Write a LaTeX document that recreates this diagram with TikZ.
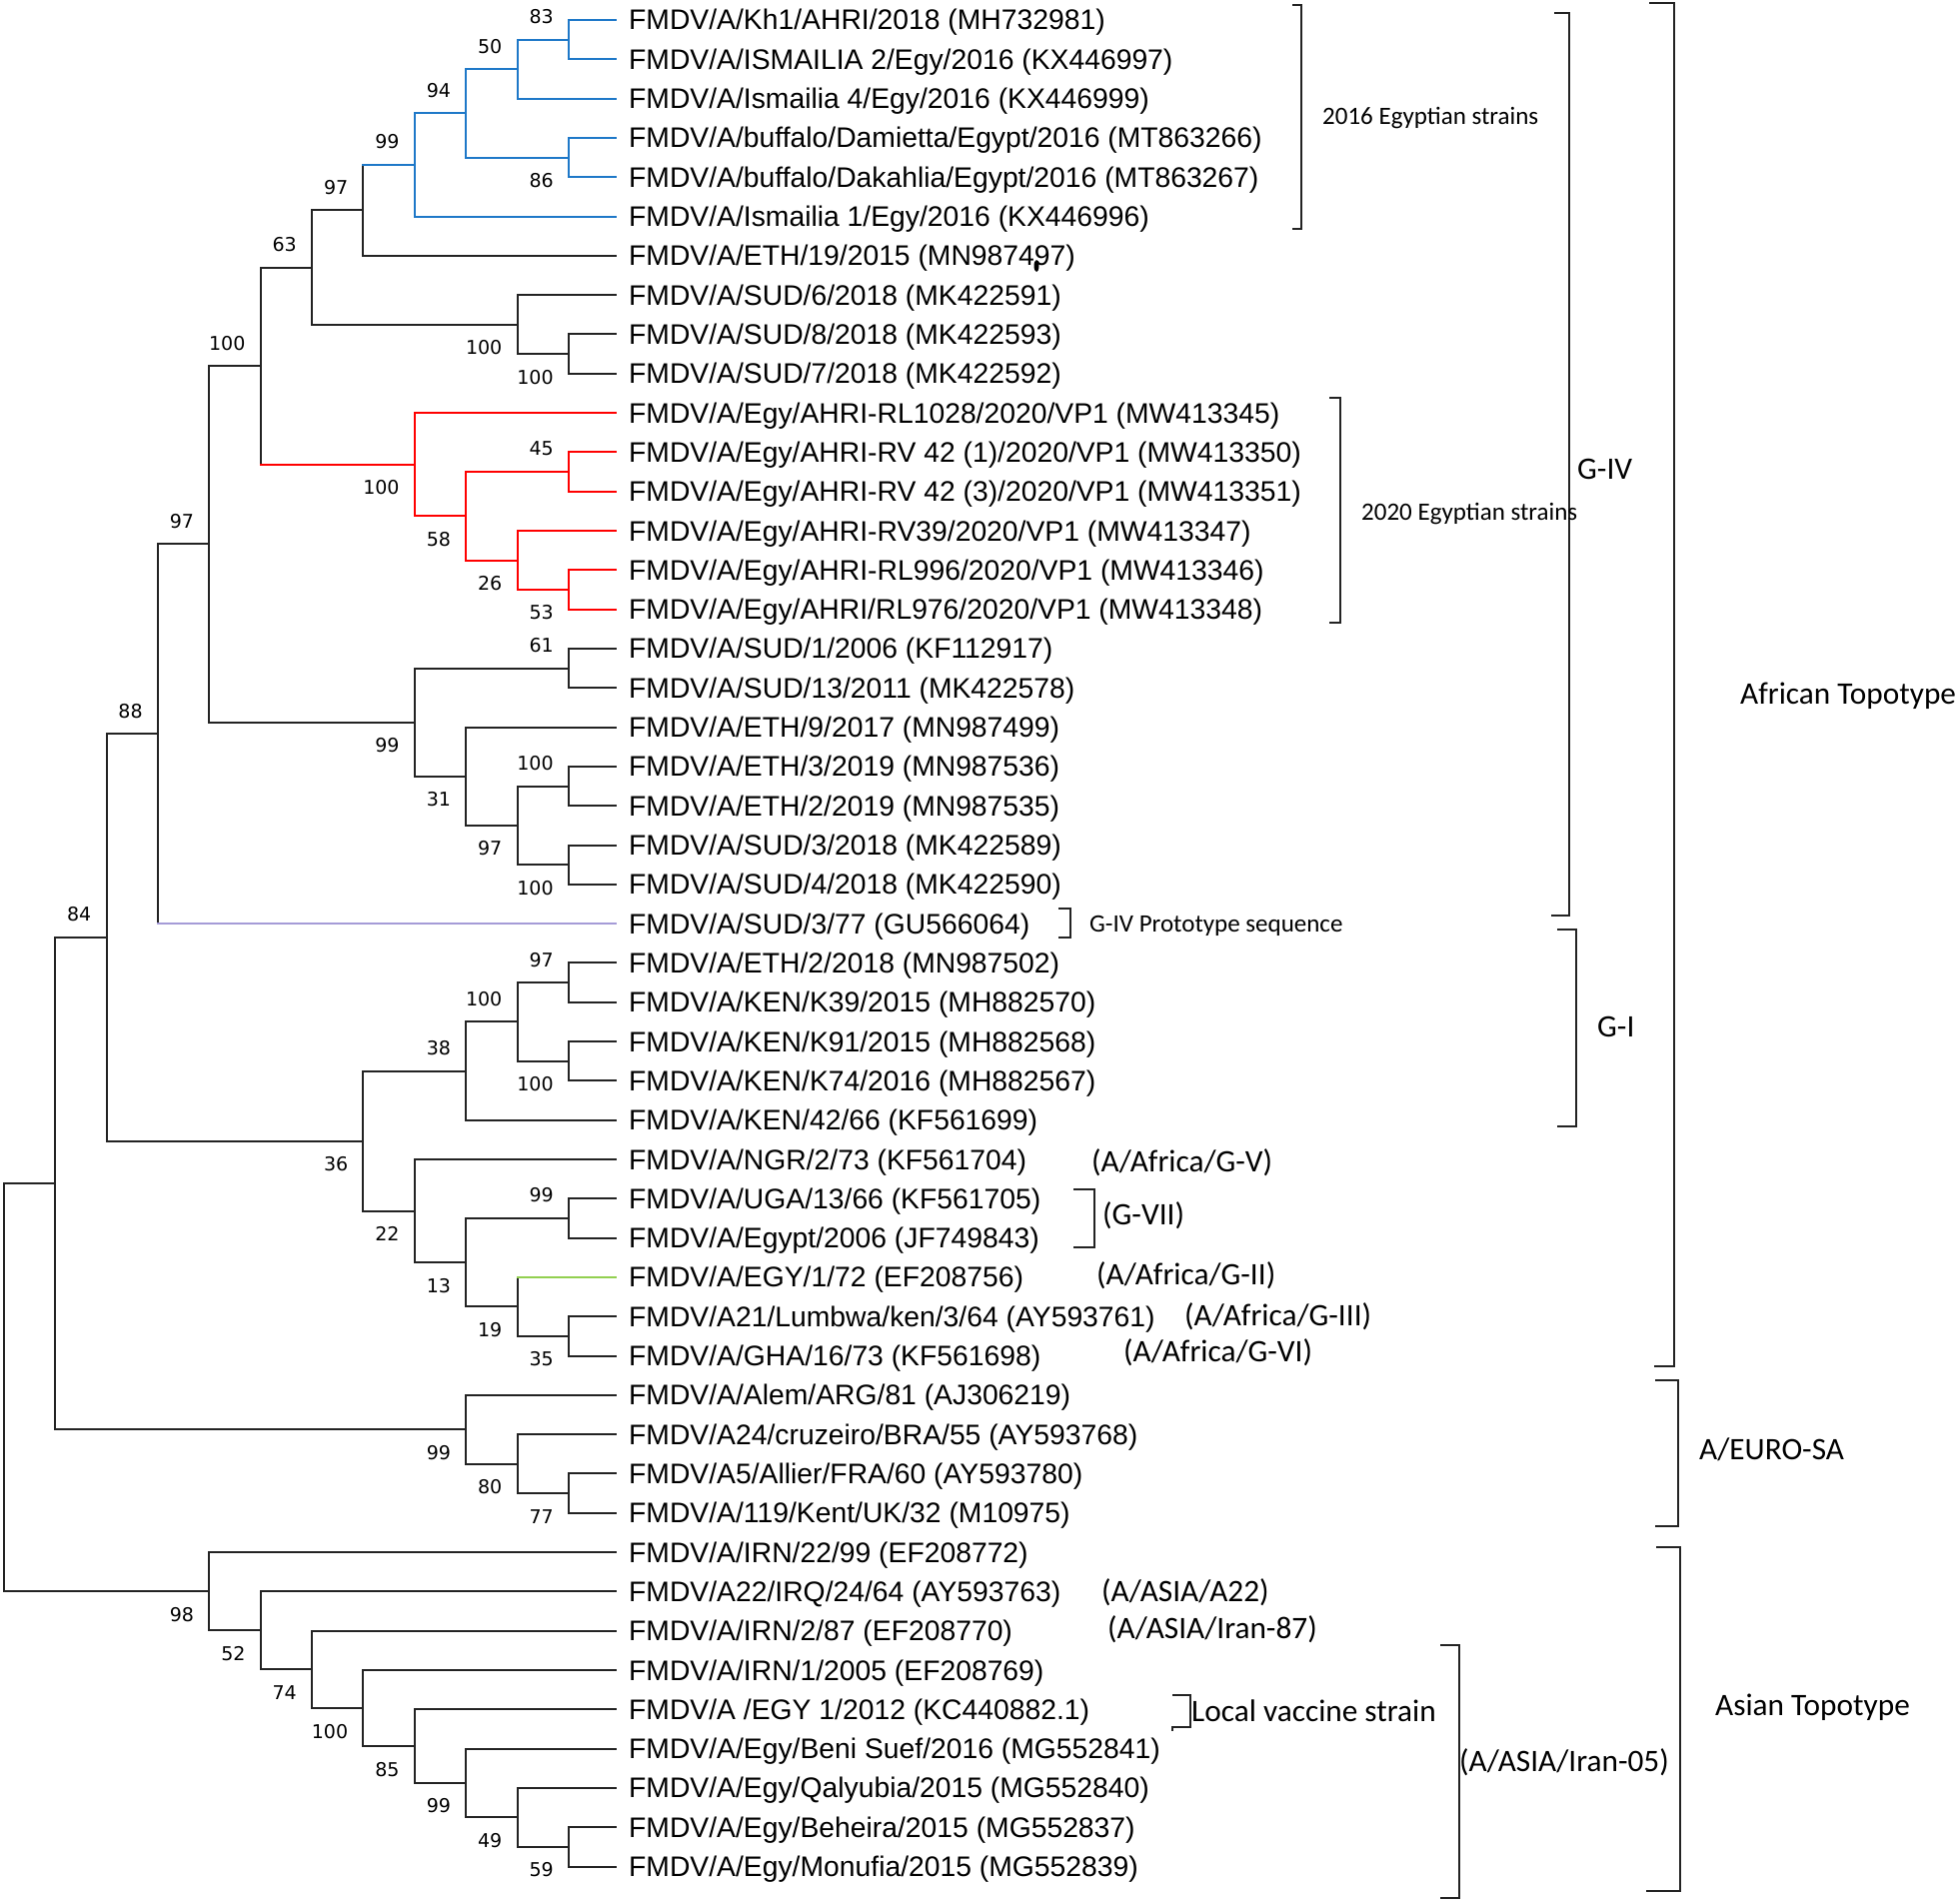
\documentclass[tikz,border=0pt]{standalone}
\usepackage{fontspec}
\setmainfont{Liberation Sans}
\newfontfamily\calfont{Carlito}
\newfontfamily\numfont{DejaVu Sans}
\usetikzlibrary{calc}
\definecolor{ink}{RGB}{35,35,35}
\definecolor{cblue}{RGB}{30,120,200}
\definecolor{cred}{RGB}{255,0,0}
\definecolor{clav}{RGB}{165,155,215}
\definecolor{cgreen}{RGB}{146,208,80}
\tikzset{
  br/.style={line width=2pt, line cap=rect, draw=ink},
  leaf/.style={anchor=base west, inner sep=0pt, xshift=13pt, yshift=-10pt, font=\fontsize{28.3}{30}\selectfont, text=black},
  bs/.style={anchor=east, inner sep=0pt, font=\numfont\fontsize{19}{20}\selectfont, text=black},
  bk/.style={line width=2.4pt, draw=ink},
  ann/.style={anchor=base west, inner sep=0pt, font=\calfont\fontsize{31.3}{33}\selectfont, text=black},
  anns/.style={anchor=base west, inner sep=0pt, font=\calfont\fontsize{25}{27}\selectfont, text=black},
}
\newcommand\vb[4][ink]{\draw[br,draw=#1] (#2 |- #3) -- (#2 |- #4);}
\newcommand\hb[3][ink]{\draw[br,draw=#1] (#2 |- #3) -- (#3);}
\newcommand\bsa[2]{\node[bs] (b#1) at ([xshift=-15pt,yshift=23pt]#1) {#2};}
\newcommand\bsb[2]{\node[bs] (b#1) at ([xshift=-15pt,yshift=-23pt]#1) {#2};}
\begin{document}
\begin{tikzpicture}
\useasboundingbox[fill=white] (0,0) rectangle (1960pt,-1905pt);
\begin{scope}[x=51.375pt, y=-39.31pt, shift={(3.75pt,-20pt)}]
% leaves
\foreach \i in {1,...,48} {\pgfmathsetmacro\r{\i-1}\coordinate (l\i) at (11.917,\r);}
% internal nodes
\coordinate (n83) at (11,0.5);
\coordinate (n50) at (10,1.25);
\coordinate (n86) at (11,3.5);
\coordinate (n94) at (9,2.375);
\coordinate (n99a) at (8,3.6875);
\coordinate (n97a) at (7,4.84375);
\coordinate (n100s1) at (11,8.5);
\coordinate (n100s2) at (10,7.75);
\coordinate (n63) at (6,6.296875);
\coordinate (n45) at (11,11.5);
\coordinate (n53) at (11,14.5);
\coordinate (n26) at (10,13.75);
\coordinate (n58) at (9,12.625);
\coordinate (n100r) at (8,11.3125);
\coordinate (n100b) at (5,8.8046875);
\coordinate (n61) at (11,16.5);
\coordinate (n100e) at (11,19.5);
\coordinate (n100f) at (11,21.5);
\coordinate (n97b) at (10,20.5);
\coordinate (n31) at (9,19.25);
\coordinate (n99b) at (8,17.875);
\coordinate (n97c) at (4,13.33984);
\coordinate (n88) at (3,18.16992);
\coordinate (n97d) at (11,24.5);
\coordinate (n100g) at (11,26.5);
\coordinate (n100h) at (10,25.5);
\coordinate (n38) at (9,26.75);
\coordinate (n99c) at (11,30.5);
\coordinate (n35) at (11,33.5);
\coordinate (n19) at (10,32.75);
\coordinate (n13) at (9,31.625);
\coordinate (n22) at (8,30.3125);
\coordinate (n36) at (7,28.53125);
\coordinate (n84) at (2,23.35059);
\coordinate (n77) at (11,37.5);
\coordinate (n80) at (10,36.75);
\coordinate (n99d) at (9,35.875);
\coordinate (nX) at (1,29.61279);
\coordinate (n59) at (11,46.5);
\coordinate (n49) at (10,45.75);
\coordinate (n99e) at (9,44.875);
\coordinate (n85) at (8,43.9375);
\coordinate (n100i) at (7,42.96875);
\coordinate (n74) at (6,41.984375);
\coordinate (n52) at (5,40.9921875);
\coordinate (n98) at (4,39.99609375);
\coordinate (root) at (0,34.8044);
% vertical bars
\vb[cblue]{n83}{l1}{l2}
\vb[cblue]{n50}{n83}{l3}
\vb[cblue]{n86}{l4}{l5}
\vb[cblue]{n94}{n50}{n86}
\vb[cblue]{n99a}{n94}{l6}
\vb{n97a}{n99a}{l7}
\vb{n100s1}{l9}{l10}
\vb{n100s2}{l8}{n100s1}
\vb{n63}{n97a}{n100s2}
\vb[cred]{n45}{l12}{l13}
\vb[cred]{n53}{l15}{l16}
\vb[cred]{n26}{l14}{n53}
\vb[cred]{n58}{n45}{n26}
\vb[cred]{n100r}{l11}{n58}
\vb{n100b}{n63}{n100r}
\vb{n61}{l17}{l18}
\vb{n100e}{l20}{l21}
\vb{n100f}{l22}{l23}
\vb{n97b}{n100e}{n100f}
\vb{n31}{l19}{n97b}
\vb{n99b}{n61}{n31}
\vb{n97c}{n100b}{n99b}
\vb{n88}{n97c}{l24}
\vb{n97d}{l25}{l26}
\vb{n100g}{l27}{l28}
\vb{n100h}{n97d}{n100g}
\vb{n38}{n100h}{l29}
\vb{n99c}{l31}{l32}
\vb{n35}{l34}{l35}
\vb{n19}{l33}{n35}
\vb{n13}{n99c}{n19}
\vb{n22}{l30}{n13}
\vb{n36}{n38}{n22}
\vb{n84}{n88}{n36}
\vb{n77}{l38}{l39}
\vb{n80}{l37}{n77}
\vb{n99d}{l36}{n80}
\vb{nX}{n84}{n99d}
\vb{n59}{l47}{l48}
\vb{n49}{l46}{n59}
\vb{n99e}{l45}{n49}
\vb{n85}{l44}{n99e}
\vb{n100i}{l43}{n85}
\vb{n74}{l42}{n100i}
\vb{n52}{l41}{n74}
\vb{n98}{l40}{n52}
\vb{root}{nX}{n98}
% horizontal branches
\hb[cblue]{n83}{l1} \hb[cblue]{n83}{l2}
\hb[cblue]{n50}{n83} \hb[cblue]{n50}{l3}
\hb[cblue]{n86}{l4} \hb[cblue]{n86}{l5}
\hb[cblue]{n94}{n50} \hb[cblue]{n94}{n86}
\hb[cblue]{n99a}{n94} \hb[cblue]{n99a}{l6}
\hb[cblue]{n97a}{n99a} \hb{n97a}{l7}
\hb{n100s1}{l9} \hb{n100s1}{l10}
\hb{n100s2}{l8} \hb{n100s2}{n100s1}
\hb{n63}{n97a} \hb{n63}{n100s2}
\hb[cred]{n45}{l12} \hb[cred]{n45}{l13}
\hb[cred]{n53}{l15} \hb[cred]{n53}{l16}
\hb[cred]{n26}{l14} \hb[cred]{n26}{n53}
\hb[cred]{n58}{n45} \hb[cred]{n58}{n26}
\hb[cred]{n100r}{l11} \hb[cred]{n100r}{n58}
\hb{n100b}{n63} \hb[cred]{n100b}{n100r}
\hb{n61}{l17} \hb{n61}{l18}
\hb{n100e}{l20} \hb{n100e}{l21}
\hb{n100f}{l22} \hb{n100f}{l23}
\hb{n97b}{n100e} \hb{n97b}{n100f}
\hb{n31}{l19} \hb{n31}{n97b}
\hb{n99b}{n61} \hb{n99b}{n31}
\hb{n97c}{n100b} \hb{n97c}{n99b}
\hb{n88}{n97c} \hb[clav]{n88}{l24}
\hb{n97d}{l25} \hb{n97d}{l26}
\hb{n100g}{l27} \hb{n100g}{l28}
\hb{n100h}{n97d} \hb{n100h}{n100g}
\hb{n38}{n100h} \hb{n38}{l29}
\hb{n99c}{l31} \hb{n99c}{l32}
\hb{n35}{l34} \hb{n35}{l35}
\hb[cgreen]{n19}{l33} \hb{n19}{n35}
\hb{n13}{n99c} \hb{n13}{n19}
\hb{n22}{l30} \hb{n22}{n13}
\hb{n36}{n38} \hb{n36}{n22}
\hb{n84}{n88} \hb{n84}{n36}
\hb{n77}{l38} \hb{n77}{l39}
\hb{n80}{l37} \hb{n80}{n77}
\hb{n99d}{l36} \hb{n99d}{n80}
\hb{nX}{n84} \hb{nX}{n99d}
\hb{n59}{l47} \hb{n59}{l48}
\hb{n49}{l46} \hb{n49}{n59}
\hb{n99e}{l45} \hb{n99e}{n49}
\hb{n85}{l44} \hb{n85}{n99e}
\hb{n100i}{l43} \hb{n100i}{n85}
\hb{n74}{l42} \hb{n74}{n100i}
\hb{n52}{l41} \hb{n52}{n74}
\hb{n98}{l40} \hb{n98}{n52}
\hb{root}{nX} \hb{root}{n98}
% bootstrap values
\bsa{n83}{83} \bsa{n50}{50} \bsb{n86}{86} \bsa{n94}{94} \bsa{n99a}{99} \bsa{n97a}{97}
\bsb{n100s2}{100} \bsb{n100s1}{100} \bsa{n63}{63} \bsa{n100b}{100}
\bsb{n100r}{100} \bsa{n45}{45} \bsb{n58}{58} \bsb{n26}{26} \bsb{n53}{53}
\bsa{n61}{61} \bsb{n99b}{99} \bsb{n31}{31} \bsa{n100e}{100} \bsb{n97b}{97} \bsb{n100f}{100}
\bsa{n97c}{97} \bsa{n88}{88} \bsa{n84}{84}
\bsa{n97d}{97} \bsa{n100h}{100} \bsb{n100g}{100} \bsa{n38}{38} \bsb{n36}{36} \bsb{n22}{22}
\bsa{n99c}{99} \bsb{n13}{13} \bsb{n19}{19} \bsb{n35}{35}
\bsb{n99d}{99} \bsb{n80}{80} \bsb{n77}{77}
\bsb{n98}{98} \bsb{n52}{52} \bsb{n74}{74} \bsb{n100i}{100} \bsb{n85}{85} \bsb{n99e}{99} \bsb{n49}{49} \bsb{n59}{59}
% leaf labels
\node[leaf] (t1) at (l1) {FMDV/A/Kh1/AHRI/2018 (MH732981)};
\node[leaf] (t2) at (l2) {FMDV/A/ISMAILIA 2/Egy/2016 (KX446997)};
\node[leaf] (t3) at (l3) {FMDV/A/Ismailia 4/Egy/2016 (KX446999)};
\node[leaf] (t4) at (l4) {FMDV/A/buffalo/Damietta/Egypt/2016 (MT863266)};
\node[leaf] (t5) at (l5) {FMDV/A/buffalo/Dakahlia/Egypt/2016 (MT863267)};
\node[leaf] (t6) at (l6) {FMDV/A/Ismailia 1/Egy/2016 (KX446996)};
\node[leaf] (t7) at (l7) {FMDV/A/ETH/19/2015 (MN987497)};
\node[leaf] (t8) at (l8) {FMDV/A/SUD/6/2018 (MK422591)};
\node[leaf] (t9) at (l9) {FMDV/A/SUD/8/2018 (MK422593)};
\node[leaf] (t10) at (l10) {FMDV/A/SUD/7/2018 (MK422592)};
\node[leaf] (t11) at (l11) {FMDV/A/Egy/AHRI-RL1028/2020/VP1 (MW413345)};
\node[leaf] (t12) at (l12) {FMDV/A/Egy/AHRI-RV 42 (1)/2020/VP1 (MW413350)};
\node[leaf] (t13) at (l13) {FMDV/A/Egy/AHRI-RV 42 (3)/2020/VP1 (MW413351)};
\node[leaf] (t14) at (l14) {FMDV/A/Egy/AHRI-RV39/2020/VP1 (MW413347)};
\node[leaf] (t15) at (l15) {FMDV/A/Egy/AHRI-RL996/2020/VP1 (MW413346)};
\node[leaf] (t16) at (l16) {FMDV/A/Egy/AHRI/RL976/2020/VP1 (MW413348)};
\node[leaf] (t17) at (l17) {FMDV/A/SUD/1/2006 (KF112917)};
\node[leaf] (t18) at (l18) {FMDV/A/SUD/13/2011 (MK422578)};
\node[leaf] (t19) at (l19) {FMDV/A/ETH/9/2017 (MN987499)};
\node[leaf] (t20) at (l20) {FMDV/A/ETH/3/2019 (MN987536)};
\node[leaf] (t21) at (l21) {FMDV/A/ETH/2/2019 (MN987535)};
\node[leaf] (t22) at (l22) {FMDV/A/SUD/3/2018 (MK422589)};
\node[leaf] (t23) at (l23) {FMDV/A/SUD/4/2018 (MK422590)};
\node[leaf] (t24) at (l24) {FMDV/A/SUD/3/77 (GU566064)};
\node[leaf] (t25) at (l25) {FMDV/A/ETH/2/2018 (MN987502)};
\node[leaf] (t26) at (l26) {FMDV/A/KEN/K39/2015 (MH882570)};
\node[leaf] (t27) at (l27) {FMDV/A/KEN/K91/2015 (MH882568)};
\node[leaf] (t28) at (l28) {FMDV/A/KEN/K74/2016 (MH882567)};
\node[leaf] (t29) at (l29) {FMDV/A/KEN/42/66 (KF561699)};
\node[leaf] (t30) at (l30) {FMDV/A/NGR/2/73 (KF561704)};
\node[leaf] (t31) at (l31) {FMDV/A/UGA/13/66 (KF561705)};
\node[leaf] (t32) at (l32) {FMDV/A/Egypt/2006 (JF749843)};
\node[leaf] (t33) at (l33) {FMDV/A/EGY/1/72 (EF208756)};
\node[leaf] (t34) at (l34) {FMDV/A21/Lumbwa/ken/3/64 (AY593761)};
\node[leaf] (t35) at (l35) {FMDV/A/GHA/16/73 (KF561698)};
\node[leaf] (t36) at (l36) {FMDV/A/Alem/ARG/81 (AJ306219)};
\node[leaf] (t37) at (l37) {FMDV/A24/cruzeiro/BRA/55 (AY593768)};
\node[leaf] (t38) at (l38) {FMDV/A5/Allier/FRA/60 (AY593780)};
\node[leaf] (t39) at (l39) {FMDV/A/119/Kent/UK/32 (M10975)};
\node[leaf] (t40) at (l40) {FMDV/A/IRN/22/99 (EF208772)};
\node[leaf] (t41) at (l41) {FMDV/A22/IRQ/24/64 (AY593763)};
\node[leaf] (t42) at (l42) {FMDV/A/IRN/2/87 (EF208770)};
\node[leaf] (t43) at (l43) {FMDV/A/IRN/1/2005 (EF208769)};
\node[leaf] (t44) at (l44) {FMDV/A /EGY 1/2012 (KC440882.1)};
\node[leaf] (t45) at (l45) {FMDV/A/Egy/Beni Suef/2016 (MG552841)};
\node[leaf] (t46) at (l46) {FMDV/A/Egy/Qalyubia/2015 (MG552840)};
\node[leaf] (t47) at (l47) {FMDV/A/Egy/Beheira/2015 (MG552837)};
\node[leaf] (t48) at (l48) {FMDV/A/Egy/Monufia/2015 (MG552839)};
\end{scope}
% annotations: brackets and group labels (pixel coordinates, y downward)
\begin{scope}[x=1pt, y=-1pt]
\draw[bk] (1293,5) -- (1302,5) -- (1302,229) -- (1293,229);
\draw[bk] (1555,13) -- (1570,13) -- (1570,916) -- (1552,916);
\draw[bk] (1650,3) -- (1675,3) -- (1675,1367) -- (1655,1367);
\draw[bk] (1330,398) -- (1341,398) -- (1341,623) -- (1330,623);
\draw[bk] (1059,909) -- (1071,909) -- (1071,938) -- (1059,938);
\draw[bk] (1558,930) -- (1577,930) -- (1577,1127) -- (1558,1127);
\draw[bk] (1074,1190) -- (1095,1190) -- (1095,1248) -- (1074,1248);
\draw[bk] (1656,1381) -- (1679,1381) -- (1679,1527) -- (1656,1527);
\draw[bk] (1657,1548) -- (1681,1548) -- (1681,1892) -- (1647,1892);
\draw[bk] (1173,1696) -- (1191,1696) -- (1191,1728) -- (1173,1728) -- (1173,1732);
\draw[bk] (1441,1646) -- (1460,1646) -- (1460,1899) -- (1441,1899);
\fill[black] (1037,266) ellipse [x radius=2.5, y radius=6];
\node[anns] (a2016) at (1323,125) {2016 Egyptian strains};
\node[anns] (a2020) at (1362,520) {2020 Egyptian strains};
\node[ann] (agiv) at (1578,479) {G-IV};
\node[anns] (aproto) at (1090,932) {G-IV Prototype sequence};
\node[ann] (agi) at (1598,1037) {G-I};
\node[ann] (aafr) at (1741,704) {African Topotype};
\node[ann] (agv) at (1092,1172) {(A/Africa/G-V)};
\node[ann] (agvii) at (1103,1225) {(G-VII)};
\node[ann] (agii) at (1097,1285) {(A/Africa/G-II)};
\node[ann] (agiii) at (1185,1326) {(A/Africa/G-III)};
\node[ann] (agvi) at (1124,1362) {(A/Africa/G-VI)};
\node[ann] (aeuro) at (1700,1460) {A/EURO-SA};
\node[ann] (aa22) at (1102,1602) {(A/ASIA/A22)};
\node[ann] (ai87) at (1108,1639) {(A/ASIA/Iran-87)};
\node[ann] (alocal) at (1192,1722) {Local vaccine strain};
\node[ann] (ai05) at (1460,1772) {(A/ASIA/Iran-05)};
\node[ann] (aasia) at (1716,1716) {Asian Topotype};
\end{scope}
\end{tikzpicture}
\end{document}
